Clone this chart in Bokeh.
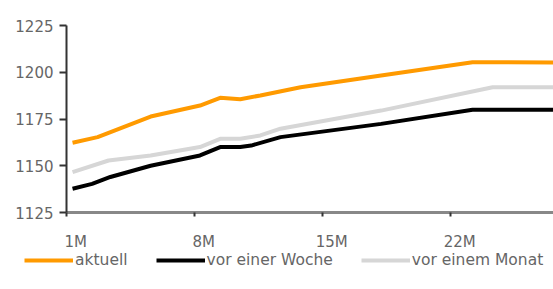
from bokeh.plotting import figure
from bokeh.models import FixedTicker, Range1d, Legend, LegendItem
from bokeh.embed import file_html
from bokeh.resources import INLINE

# Maturity in months (x) and values
tick_months = [1, 8, 15, 22]
tick_labels = ["1M", "8M", "15M", "22M"]
y_ticks = [1125, 1150, 1175, 1200, 1225]

aktuell_x = [1.33, 2.7, 5.6, 8.3, 9.4, 10.5, 11.6, 13.8, 18.2, 23.2, 27.6]
aktuell_y = [1162.3, 1165.3, 1176.3, 1182.2, 1186.3, 1185.6, 1187.6, 1192.0, 1198.3, 1205.4, 1205.2]

woche_x = [1.33, 2.4, 3.4, 5.6, 8.3, 9.4, 10.5, 11.1, 12.7, 18.2, 23.2, 27.6]
woche_y = [1137.7, 1140.3, 1144.0, 1150.0, 1155.5, 1160.0, 1160.0, 1160.8, 1165.3, 1172.4, 1180.0, 1180.0]

monat_x = [1.33, 3.3, 5.6, 8.3, 9.4, 10.5, 11.6, 12.7, 18.2, 24.3, 27.6]
monat_y = [1146.6, 1152.8, 1155.5, 1160.0, 1164.4, 1164.4, 1166.2, 1169.8, 1179.5, 1192.0, 1192.0]

series_names = ["aktuell", "vor einer Woche", "vor einem Monat"]
colors = ["#FF9A00", "#000000", "#D6D6D6"]

FONT = "DejaVu Sans"
TXT = "#666666"

W, H = 553, 289
# layout of the axes box in pixels (styling, not data)
left_px, top_px, bottom_px = 66, 25, 212
px_per_unit = (bottom_px - top_px) / (y_ticks[-1] - y_ticks[0])
px_per_month = 18.29
x0 = tick_months[0] - left_px / px_per_month
x1 = tick_months[0] + (W - left_px) / px_per_month
y1 = y_ticks[-1] + top_px / px_per_unit
y0 = y_ticks[0] - (H - bottom_px) / px_per_unit

p = figure(width=W, height=H, output_backend="svg", toolbar_location=None,
           x_range=Range1d(x0, x1), y_range=Range1d(y0, y1),
           min_border=0, min_border_left=0, min_border_right=0,
           min_border_top=0, min_border_bottom=0)
p.outline_line_color = None
p.grid.visible = False
p.background_fill_color = "white"

r3 = p.line(monat_x, monat_y, line_color=colors[2], line_width=4)
r2 = p.line(woche_x, woche_y, line_color=colors[1], line_width=4)
r1 = p.line(aktuell_x, aktuell_y, line_color=colors[0], line_width=4)

# y axis
ya = p.yaxis[0]
ya.fixed_location = tick_months[0]
ya.bounds = (y_ticks[0], y_ticks[-1])
ya.ticker = FixedTicker(ticks=y_ticks)
ya.minor_tick_line_color = None
ya.axis_line_color = "#333333"
ya.axis_line_width = 2
ya.major_tick_line_color = "#333333"
ya.major_tick_line_width = 2
ya.major_tick_out = 7
ya.major_tick_in = 0
ya.major_label_standoff = 6
ya.major_label_text_font = FONT
ya.major_label_text_font_size = "15px"
ya.major_label_text_color = TXT

# x axis: tick marks at the months (minor ticks), labels drawn slightly to the right
label_shift = 0.5
label_pos = [t + label_shift for t in tick_months]
xa = p.xaxis[0]
xa.fixed_location = y_ticks[0]
xa.bounds = (tick_months[0], x1)
xa.ticker = FixedTicker(ticks=label_pos, minor_ticks=tick_months)
xa.major_label_overrides = {pos: lab for pos, lab in zip(label_pos, tick_labels)}
xa.major_tick_line_color = None
xa.major_tick_out = 0
xa.major_tick_in = 0
xa.minor_tick_line_color = "#333333"
xa.minor_tick_line_width = 2
xa.minor_tick_out = 4
xa.minor_tick_in = 0
xa.axis_line_color = "#888888"
xa.axis_line_width = 3
xa.major_label_standoff = 16
xa.major_label_text_font = FONT
xa.major_label_text_font_size = "15px"
xa.major_label_text_color = TXT

legend = Legend(items=[LegendItem(label=series_names[0], renderers=[r1]),
                       LegendItem(label=series_names[1], renderers=[r2]),
                       LegendItem(label=series_names[2], renderers=[r3])],
                orientation="horizontal", location=(24, 19),
                glyph_width=49, glyph_height=20, label_height=20, label_width=10,
                label_standoff=2, spacing=28, padding=0, margin=0,
                border_line_color=None, background_fill_alpha=0,
                label_text_font=FONT, label_text_font_size="15.5px",
                label_text_color=TXT)
p.add_layout(legend, "center")

open("out.html", "w").write(file_html(p, INLINE))
